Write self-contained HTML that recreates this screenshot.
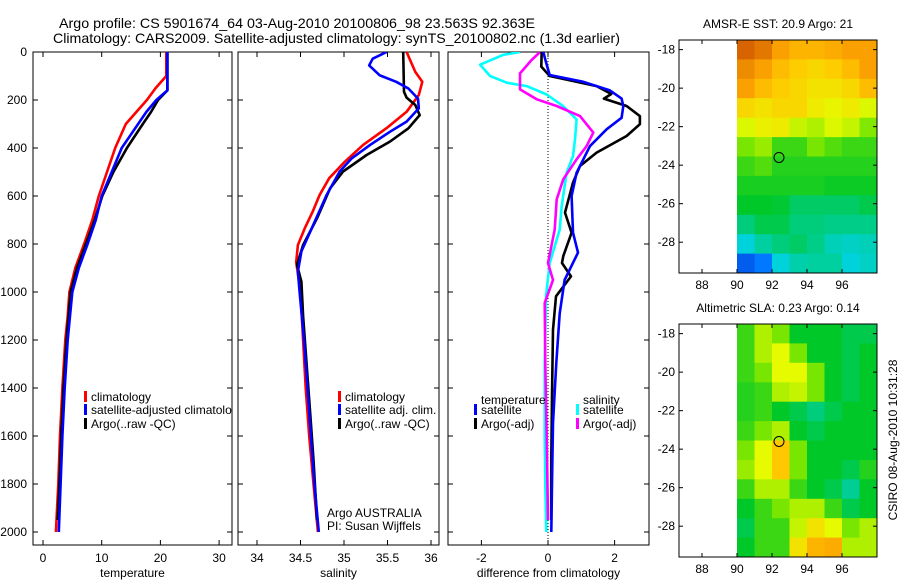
<!DOCTYPE html>
<html><head><meta charset="utf-8">
<style>
html,body{margin:0;padding:0;background:#fff;}
svg{display:block;font-family:"Liberation Sans",sans-serif;}
</style></head>
<body>
<svg id="fig" width="900" height="580" viewBox="0 0 900 580" xmlns="http://www.w3.org/2000/svg">
<defs>
<clipPath id="c1"><rect x="33" y="52" width="199" height="493"/></clipPath>
<clipPath id="c2"><rect x="238" y="52" width="201" height="493"/></clipPath>
<clipPath id="c3"><rect x="448" y="52" width="201" height="493"/></clipPath>
</defs>
<text x="59" y="28" font-size="14" textLength="476" lengthAdjust="spacingAndGlyphs">Argo profile: CS 5901674_64 03-Aug-2010 20100806_98 23.563S 92.363E</text>
<text x="53" y="43" font-size="14" textLength="567" lengthAdjust="spacingAndGlyphs">Climatology: CARS2009. Satellite-adjusted climatology: synTS_20100802.nc (1.3d earlier)</text>
<g id="layer"></g>
</svg>
<script>
// ---------- data ----------
const depthTicks=[0,200,400,600,800,1000,1200,1400,1600,1800,2000];
const tempTicks=[0,10,20,30];
const salTicks=[34,34.5,35,35.5,36];
const diffTicks=[-2,0,2];
const lonTicks=[88,90,92,94,96];
const latTicks=[-18,-20,-22,-24,-26,-28];

const tClimDepth=[0,100,150,200,300,400,500,600,700,800,900,1000,1100,1200,1400,1600,1800,2000];
const tClimVal=[21,21,19.2,17.7,14.1,12.3,10.9,9.5,8.4,7.0,5.5,4.5,4.2,3.8,3.3,2.9,2.6,2.2];
const tSatDepth=[0,160,200,250,300,400,500,600,700,800,900,1000,1200,1400,1600,1800,2000];
const tSatVal=[21.2,21.2,19.3,17.6,16.2,13.4,11.7,10.0,9.0,7.6,6.1,5.0,4.2,3.7,3.3,3.0,2.7];
const tArgoDepth=[0,160,200,250,300,400,500,600,700,800,900,1000,1200,1400,1600,1800,1950];
const tArgoVal=[21.2,21.2,19.6,18.4,17.0,14.3,12.0,10.1,8.8,7.3,5.8,4.7,4.0,3.5,3.1,2.8,2.5];

const sClimDepth=[0,83,124,179,249,317,387,457,526,596,665,734,804,875,1000,1200,1400,1600,1800,2000];
const sClimVal=[35.72,35.82,35.9,35.86,35.72,35.49,35.22,35.01,34.83,34.72,34.64,34.55,34.47,34.45,34.5,34.53,34.56,34.6,34.65,34.7];
const sSatDepth=[0,28,56,97,124,152,194,235,290,332,387,443,498,596,734,831,915,1000,1200,1400,1600,1800,2000];
const sSatVal=[35.49,35.33,35.29,35.41,35.6,35.74,35.85,35.86,35.72,35.53,35.3,35.09,34.95,34.8,34.63,34.51,34.47,34.49,34.54,34.58,34.62,34.66,34.71];
const sArgoDepth=[0,166,190,221,263,318,373,429,498,568,693,804,887,957,1100,1300,1500,1700,1950];
const sArgoVal=[35.68,35.69,35.72,35.82,35.87,35.74,35.53,35.26,34.99,34.84,34.69,34.53,34.46,34.51,34.53,34.57,34.61,34.65,34.69];

const dTSatDepth=[0,47,96,124,160,194,225,274,322,392,503,600,753,836,950,1089,1296,1546,1800,2000];
const dTSatVal=[-0.14,-0.05,0.05,1.06,1.86,2.21,2.26,2.21,1.76,1.26,0.86,0.71,0.75,0.9,0.5,0.35,0.25,0.15,0.12,0.1];
const dTArgoDepth=[0,61,100,142,175,194,225,267,301,350,419,475,544,669,753,850,879,935,1018,1157,1435,1700,1950];
const dTArgoVal=[-0.19,-0.2,0.05,1.46,1.9,1.68,2.36,2.76,2.76,2.36,1.46,0.96,0.75,0.51,0.71,0.46,0.42,0.69,0.24,0.15,0.12,0.1,0.1];
const dSSatDepth=[0,12,53,67,100,128,142,177,225,281,364,434,503,642,740,879,1018,1300,1600,1800,2000];
const dSSatVal=[-0.84,-1.35,-2.04,-1.95,-1.74,-1.24,-0.64,-0.04,0.45,0.86,0.81,0.75,0.56,0.41,0.35,0.05,-0.06,-0.1,-0.1,-0.08,-0.05];
const dSArgoDepth=[0,33,89,156,197,225,267,336,392,447,530,614,740,879,950,1046,1300,1600,1950];
const dSArgoVal=[-0.24,-0.49,-0.84,-0.84,-0.34,0.26,0.96,1.36,1.16,0.86,0.46,0.26,0.2,0.0,0.15,-0.1,-0.08,-0.04,0.0];

// map grids: rows lat -17.5 -> -29.6, cols lon 90 -> 98 (normalized colour index 0..1)
const sstGrid=[
[1.0,0.95,0.85,0.8,0.8,0.82,0.85,0.85],
[0.9,0.85,0.78,0.74,0.72,0.74,0.78,0.85],
[0.85,0.78,0.74,0.72,0.7,0.7,0.72,0.78],
[0.72,0.7,0.72,0.72,0.68,0.66,0.68,0.64],
[0.64,0.67,0.68,0.62,0.6,0.64,0.62,0.56],
[0.55,0.58,0.5,0.5,0.55,0.52,0.5,0.5],
[0.5,0.52,0.48,0.48,0.48,0.48,0.48,0.48],
[0.47,0.47,0.47,0.47,0.47,0.46,0.46,0.46],
[0.45,0.45,0.44,0.4,0.4,0.4,0.4,0.42],
[0.38,0.42,0.42,0.38,0.38,0.37,0.37,0.37],
[0.3,0.35,0.38,0.4,0.37,0.33,0.32,0.33],
[0.1,0.15,0.3,0.34,0.35,0.35,0.3,0.32]];
const slaGrid=[
[0.5,0.6,0.55,0.45,0.45,0.45,0.42,0.42],
[0.5,0.6,0.65,0.55,0.45,0.45,0.42,0.45],
[0.5,0.55,0.65,0.65,0.55,0.45,0.42,0.45],
[0.48,0.5,0.6,0.62,0.55,0.45,0.42,0.45],
[0.48,0.5,0.45,0.42,0.38,0.42,0.45,0.45],
[0.5,0.55,0.6,0.45,0.42,0.45,0.45,0.45],
[0.55,0.65,0.75,0.55,0.45,0.45,0.45,0.45],
[0.58,0.65,0.75,0.55,0.45,0.45,0.42,0.48],
[0.5,0.6,0.6,0.5,0.45,0.42,0.36,0.45],
[0.45,0.5,0.55,0.6,0.6,0.5,0.42,0.45],
[0.42,0.5,0.5,0.62,0.7,0.65,0.55,0.6],
[0.45,0.5,0.5,0.7,0.8,0.82,0.6,0.6]];
const argoPos=[92.4,-23.6];

// ---------- helpers ----------
const NS="http://www.w3.org/2000/svg";
const layer=document.getElementById('layer');
function mk(tag,attrs,parent){const e=document.createElementNS(NS,tag);for(const k in attrs)e.setAttribute(k,attrs[k]);(parent||layer).appendChild(e);return e;}
const Y=d=>52+d*0.24;
const ax1=v=>43+(v-0)*5.87;
const ax2=v=>257+(v-34)*87;
const ax3=v=>548+v*33.3;

function panel(x0,x1,xs,xticks,fmt,title,name){
  const g=mk('g',{});
  
  
  const r=mk('rect',{x:x0,y:52,width:x1-x0,height:493,fill:'none',stroke:'#000','stroke-width':1},g);
  
  
  xticks.forEach(v=>{const x=xs(v);
    mk('line',{x1:x,x2:x,y1:545,y2:540,stroke:'#000'},g);
    mk('line',{x1:x,x2:x,y1:52,y2:57,stroke:'#000'},g);
    const t=mk('text',{x:x,y:562,'font-size':12,'text-anchor':'middle'},g);t.textContent=fmt(v);
    
    
  });
  depthTicks.forEach(d=>{const y=Y(d);
    mk('line',{x1:x0,x2:x0+5,y1:y,y2:y,stroke:'#000'},g);
    mk('line',{x1:x1,x2:x1-5,y1:y,y2:y,stroke:'#000'},g);
  });
  const t=mk('text',{x:(x0+x1)/2,y:577,'font-size':12,'text-anchor':'middle'},g);t.textContent=title;
  
  
  return g;
}
function series(depths,vals,xs,color,clip,name){
  const pts=depths.map((d,i)=>xs(vals[i]).toFixed(1)+','+Y(d).toFixed(1)).join(' ');
  const p=mk('polyline',{points:pts,fill:'none',stroke:color,'stroke-width':2.6,'stroke-linejoin':'round','clip-path':'url(#'+clip+')'});
  
  
}
function legend(x,y,color,label,name,clip){
  const r=mk('rect',{x:x,y:y-9,width:3,height:11,fill:color});
  
  
  const t=mk('text',{x:x+7,y:y+1,'font-size':12});
  if(clip)t.setAttribute('clip-path','url(#'+clip+')');
  t.textContent=label;
  
  
}
function txt(x,y,s,name,anchor){
  const t=mk('text',{x:x,y:y,'font-size':12,'text-anchor':anchor||'start'});t.textContent=s;
  
  
  return t;
}

// ---------- panel 1 ----------
panel(33,232,ax1,tempTicks,v=>v,'temperature','temperature-panel');
depthTicks.forEach(d=>{const t=txt(27,Y(d)+4,d,'y-tick-label','end');});
series(tClimDepth,tClimVal,ax1,'#ff0000','c1','temp-climatology-line');
series(tArgoDepth,tArgoVal,ax1,'#000000','c1','temp-argo-line');
series(tSatDepth,tSatVal,ax1,'#0000ff','c1','temp-satellite-line');
legend(84,400,'#ff0000','climatology','legend-climatology');
legend(84,413,'#0000ff','satellite-adjusted climatology','legend-satellite-adjusted','c1');
legend(84,427,'#000000','Argo(..raw -QC)','legend-argo');

// ---------- panel 2 ----------
panel(238,439,ax2,salTicks,v=>v,'salinity','salinity-panel');
series(sClimDepth,sClimVal,ax2,'#ff0000','c2','sal-climatology-line');
series(sArgoDepth,sArgoVal,ax2,'#000000','c2','sal-argo-line');
series(sSatDepth,sSatVal,ax2,'#0000ff','c2','sal-satellite-line');
legend(338,400,'#ff0000','climatology','legend-climatology-2');
legend(338,413,'#0000ff','satellite adj. clim.','legend-satellite-adj-2');
legend(338,427,'#000000','Argo(..raw -QC)','legend-argo-2');
txt(327,517,'Argo AUSTRALIA','institution-label');
txt(327,530,'PI: Susan Wijffels','pi-label');

// ---------- panel 3 ----------
panel(448,649,ax3,diffTicks,v=>v,'difference from climatology','difference-panel');
const zl=mk('line',{x1:ax3(0),x2:ax3(0),y1:52,y2:545,stroke:'#000','stroke-width':1,'stroke-dasharray':'1,2'});


series(dSSatDepth,dSSatVal,ax3,'#00ffff','c3','diff-sal-satellite-line');
series(dSArgoDepth,dSArgoVal,ax3,'#ff00ff','c3','diff-sal-argo-line');
series(dTArgoDepth,dTArgoVal,ax3,'#000000','c3','diff-temp-argo-line');
series(dTSatDepth,dTSatVal,ax3,'#0000ff','c3','diff-temp-satellite-line');
txt(481,404,'temperature','legend-temperature-heading');
legend(474,413,'#0000ff','satellite','legend-temp-satellite');
legend(474,427,'#000000','Argo(-adj)','legend-temp-argo');
txt(583,404,'salinity','legend-salinity-heading');
legend(576,413,'#00ffff','satellite','legend-sal-satellite');
legend(576,427,'#ff00ff','Argo(-adj)','legend-sal-argo');

// ---------- maps ----------
const stops=[[0,[0,40,200]],[0.15,[0,120,255]],[0.3,[0,210,220]],[0.45,[0,200,40]],[0.55,[120,230,0]],[0.65,[230,250,0]],[0.75,[255,200,0]],[0.85,[250,160,0]],[1,[215,100,0]]];
function cmap(v){for(let i=1;i<stops.length;i++){if(v<=stops[i][0]){const a=stops[i-1],b=stops[i],t=(v-a[0])/(b[0]-a[0]);const c=a[1].map((x,k)=>Math.round(x+(b[1][k]-x)*t));return 'rgb('+c.join(',')+')';}}return 'rgb(215,100,0)';}
function drawMap(top,bottom,grid,title,name){
  const left=679,right=877;
  const lonX=lon=>702+(lon-88)*17.5;
  const latY=lat=>top+(-17.5-lat)*(bottom-top)/12.1;
  const g=mk('g',{});
  
  
  const nr=grid.length;
  grid.forEach((row,i)=>row.forEach((v,j)=>{
    const x=lonX(90+j),y=latY(-17.5-i*12.1/nr);
    const h=latY(-17.5-(i+1)*12.1/nr)-y;
    const c=mk('rect',{x:x.toFixed(1),y:y.toFixed(1),width:(lonX(91+j)-x+0.5).toFixed(1),height:(h+0.5).toFixed(1),fill:cmap(v)},g);
    
    
  }));
  const fr=mk('rect',{x:left,y:top,width:right-left,height:bottom-top,fill:'none',stroke:'#000'},g);
  
  
  lonTicks.forEach(l=>{const x=lonX(l);
    mk('line',{x1:x,x2:x,y1:bottom,y2:bottom-4,stroke:'#000'},g);
    mk('line',{x1:x,x2:x,y1:top,y2:top+4,stroke:'#000'},g);
    const t=mk('text',{x:x,y:bottom+16,'font-size':12,'text-anchor':'middle'},g);t.textContent=l;
    
    
  });
  latTicks.forEach(l=>{const y=latY(l);
    mk('line',{x1:left,x2:left+4,y1:y,y2:y,stroke:'#000'},g);
    mk('line',{x1:right,x2:right-4,y1:y,y2:y,stroke:'#000'},g);
    const t=mk('text',{x:675,y:y+4,'font-size':12,'text-anchor':'end'},g);t.textContent=l;
    
    
  });
  const c=mk('circle',{cx:lonX(argoPos[0]),cy:latY(argoPos[1]),r:5,fill:'none',stroke:'#000','stroke-width':1},g);
  
  
  const t=mk('text',{x:(left+right)/2,y:top-12,'font-size':12,'text-anchor':'middle'},g);t.textContent=title;
  
  
}
drawMap(40,273,sstGrid,'AMSR-E SST: 20.9 Argo: 21','sst-map');
drawMap(324,557,slaGrid,'Altimetric SLA: 0.23 Argo: 0.14','sla-map');
const cs=mk('text',{x:897,y:440,'font-size':12,'text-anchor':'middle',transform:'rotate(-90 897 440)'});
cs.textContent='CSIRO 08-Aug-2010 10:31:28';


</script>
</body></html>
